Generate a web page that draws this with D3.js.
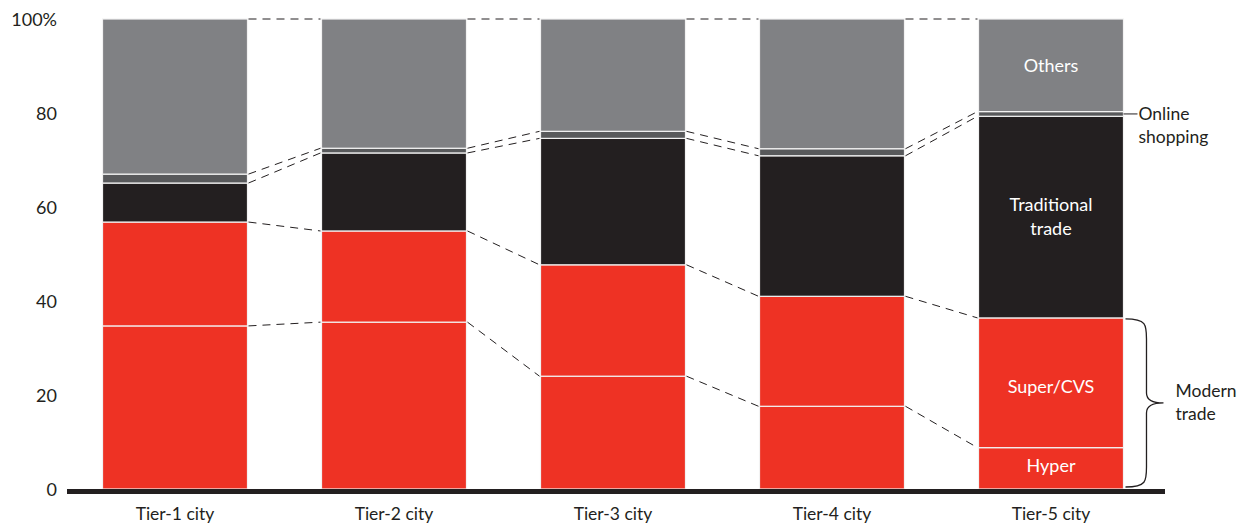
<!DOCTYPE html>
<html>
<head>
<meta charset="utf-8">
<script src="https://cdn.jsdelivr.net/npm/d3@7"></script>
<style>
  html, body { margin: 0; padding: 0; background: #fff; }
  svg text { font-family: "Lato", "Open Sans", sans-serif; fill: #231F20; }
</style>
</head>
<body>
<svg id="chart" width="1246" height="524"></svg>
<script>
const categories = ["Tier-1 city", "Tier-2 city", "Tier-3 city", "Tier-4 city", "Tier-5 city"];
const seriesNames = ["Hyper", "Super/CVS", "Traditional trade", "Online shopping", "Others"];
const hyper       = [34.7, 35.5, 24.0, 17.6, 8.8];
const superCVS    = [22.1, 19.4, 23.7, 23.4, 27.6];
const traditional = [8.3, 16.6, 26.9, 29.9, 42.9];
const online      = [1.9, 1.0, 1.5, 1.5, 1.0];
const others      = [33.0, 27.5, 23.9, 27.6, 19.7];
const yTicks = [0, 20, 40, 60, 80, 100];
const colors = ["#EE3224", "#EE3224", "#231F20", "#58595B", "#808184"];

(function () {
const seriesValues = [hyper, superCVS, traditional, online, others];
const rows = categories.map((c, i) => {
  const r = { cat: c };
  seriesNames.forEach((s, j) => r[s] = seriesValues[j][i]);
  return r;
});
const stacked = d3.stack().keys(seriesNames)(rows);

const svg = d3.select("#chart");
const x = d3.scaleBand().domain(categories).range([65.5, 1160.5]).paddingInner(0.338).paddingOuter(0.169);
const y = d3.scaleLinear().domain([0, 100]).range([489, 19]);

// bars
stacked.forEach((layer, j) => {
  svg.append("g").selectAll("rect").data(layer).join("rect")
    .attr("x", d => x(d.data.cat))
    .attr("y", d => y(d[1]))
    .attr("width", x.bandwidth())
    .attr("height", d => y(d[0]) - y(d[1]))
    .attr("fill", colors[j])
    .attr("stroke", "#f2f2f2")
    .attr("stroke-width", 1.2);
});

// dashed connectors
const boundaries = stacked.map(layer => layer.map(d => d[1]));
boundaries.forEach(vals => {
  for (let i = 0; i < categories.length - 1; i++) {
    svg.append("line")
      .attr("x1", x(categories[i]) + x.bandwidth() + 1)
      .attr("x2", x(categories[i + 1]) - 1)
      .attr("y1", y(vals[i]))
      .attr("y2", y(vals[i + 1]))
      .attr("stroke", "#231F20")
      .attr("stroke-width", 1)
      .attr("stroke-dasharray", "8,6");
  }
});

// y axis labels
const yAxis = d3.axisLeft(y).tickValues(yTicks).tickSize(0).tickPadding(0)
  .tickFormat(d => d === 100 ? "100%" : d);
const ya = svg.append("g").attr("transform", "translate(57,0)").call(yAxis);
ya.select(".domain").remove();
ya.selectAll("text").attr("font-size", 18).attr("font-family", "Lato, sans-serif").attr("fill", "#231F20").attr("dy", "0.36em");

// x axis baseline
svg.append("line").attr("x1", 67).attr("x2", 1165).attr("y1", 491.5).attr("y2", 491.5)
  .attr("stroke", "#231F20").attr("stroke-width", 5);

const xAxis = d3.axisBottom(x).tickSize(0).tickPadding(0);
const xa = svg.append("g").attr("transform", "translate(0,520)").call(xAxis);
xa.select(".domain").remove();
xa.selectAll("text").attr("font-size", 17.5).attr("font-family", "Lato, sans-serif").attr("fill", "#231F20").attr("dy", 0);

// labels inside last bar
const last = categories.length - 1;
const lc = x(categories[last]) + x.bandwidth() / 2;
const inLabels = [
  { lines: ["Others"], y: 72 },
  { lines: ["Traditional", "trade"], y: 211 },
  { lines: ["Super/CVS"], y: 393 },
  { lines: ["Hyper"], y: 472 }
];
inLabels.forEach(l => {
  l.lines.forEach((t, k) => {
    svg.append("text").attr("x", lc).attr("y", l.y + k * 24)
      .attr("text-anchor", "middle").attr("font-size", 18)
      .style("fill", "#fff").text(t);
  });
});

// Online shopping annotation
const bx = x(categories[last]) + x.bandwidth();
const oy = y((boundaries[2][last] + boundaries[3][last]) / 2);
svg.append("line").attr("x1", bx).attr("x2", bx + 14).attr("y1", oy).attr("y2", oy)
  .attr("stroke", "#231F20").attr("stroke-width", 1);
svg.append("text").attr("x", bx + 15).attr("y", 120).attr("font-size", 17.5).text("Online");
svg.append("text").attr("x", bx + 15).attr("y", 143).attr("font-size", 17.5).text("shopping");

// brace for modern trade
const bTop = y(boundaries[1][last]) + 1, bBot = y(0) - 2;
const mid = (bTop + bBot) / 2;
const x0 = bx + 2, x1 = bx + 23, xt = bx + 40;
const brace = `M${x0},${bTop} C${x1},${bTop} ${x1},${bTop+6} ${x1},${bTop+20}
  L${x1},${mid-10} C${x1},${mid-4} ${x1+4},${mid} ${xt},${mid}
  C${x1+4},${mid} ${x1},${mid+4} ${x1},${mid+10}
  L${x1},${bBot-20} C${x1},${bBot-6} ${x1},${bBot} ${x0},${bBot}`;
svg.append("path").attr("d", brace).attr("fill", "none").attr("stroke", "#231F20").attr("stroke-width", 1.3);
svg.append("text").attr("x", bx + 52).attr("y", 397).attr("font-size", 17.5).text("Modern");
svg.append("text").attr("x", bx + 52).attr("y", 420).attr("font-size", 17.5).text("trade");
})();
</script>
</body>
</html>
